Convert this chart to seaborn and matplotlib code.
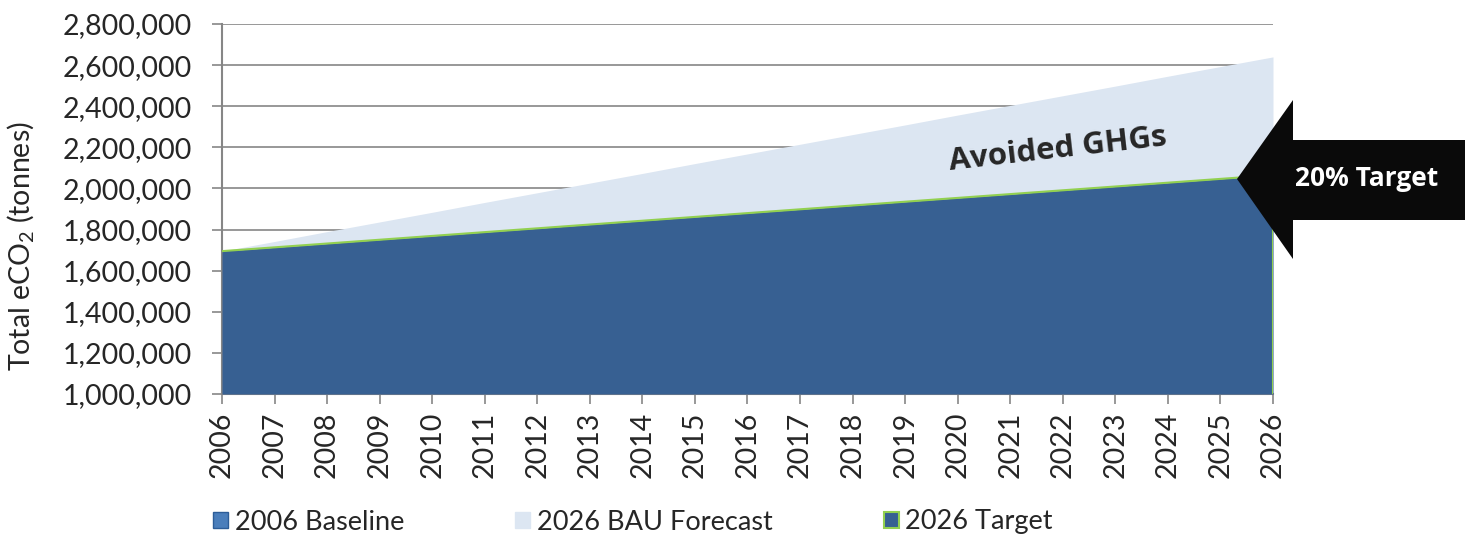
import matplotlib
matplotlib.use("Agg")
import matplotlib.pyplot as plt
import matplotlib.patches as mpatches
from matplotlib.ticker import FuncFormatter
import seaborn as sns
import pandas as pd

# Chart data
years = list(range(2006, 2027))
baseline_2006 = [1695000] * len(years)
bau_forecast = [1695000, 1742000, 1790000, 1837000, 1884000, 1932000, 1979000,
                2026000, 2073000, 2121000, 2168000, 2215000, 2262000, 2309000,
                2357000, 2404000, 2451000, 2498000, 2546000, 2593000, 2640000]
target_2026 = [1695000, 1713500, 1732000, 1750500, 1769000, 1787500, 1806000,
               1824500, 1843000, 1861500, 1880000, 1898500, 1917000, 1935500,
               1954000, 1972500, 1991000, 2009500, 2028000, 2046500, 2065000]
y_ticks = list(range(1000000, 2800001, 200000))
legend_labels = ["2006 Baseline", "2026 BAU Forecast", "2026 Target"]

df = pd.DataFrame({"year": years, "baseline": baseline_2006,
                   "bau": bau_forecast, "target": target_2026})

LIGHT = "#DCE6F2"
DARK = "#376092"
MID = "#4A7EBB"
GREEN = "#92D050"
GRID = "#868686"

sns.set_style("white")
plt.rcParams["font.family"] = ["Lato", "DejaVu Sans"]
plt.rcParams["mathtext.default"] = "regular"

fig = plt.figure(figsize=(14.7, 5.38), dpi=100)
ax = fig.add_axes([222 / 1470, 1 - 394 / 538, (1273 - 222) / 1470, (394 - 24) / 538])

# stacked-looking areas: forecast behind, target in front
ax.fill_between(df["year"], 1000000, df["bau"], color=LIGHT, linewidth=0, zorder=1)
ax.fill_between(df["year"], 1000000, df["baseline"], color=MID, linewidth=0, zorder=2)
ax.fill_between(df["year"], 1000000, df["target"], color=DARK, linewidth=0, zorder=3)
sns.lineplot(data=df, x="year", y="target", color=GREEN, linewidth=1.5, ax=ax, zorder=4)
ax.plot([years[-1], years[-1]], [1000000, target_2026[-1]], color=GREEN, linewidth=1.5, zorder=4)

ax.set_xlim(years[0], years[-1])
ax.set_ylim(1000000, 2800000)
ax.set_xticks(years)
ax.set_xticklabels([str(y) for y in years], rotation=90, fontsize=20.5)
ax.set_yticks(y_ticks)
ax.yaxis.set_major_formatter(FuncFormatter(lambda v, p: f"{int(v):,}"))
ax.tick_params(axis="y", labelsize=20.5, length=7.5, width=1.2, color=GRID,
               direction="out", left=True, pad=14)
ax.tick_params(axis="x", length=7.5, width=1.2, color=GRID, direction="out",
               bottom=True, pad=5)
ax.grid(axis="y", color=GRID, linewidth=1.2, zorder=0)
ax.set_axisbelow(True)
for side in ["top", "right"]:
    ax.spines[side].set_visible(False)
for side in ["left", "bottom"]:
    ax.spines[side].set_color(GRID)
    ax.spines[side].set_linewidth(1.5)
ax.set_xlabel("")
ax.set_ylabel("Total eCO$_2$ (tonnes)", fontsize=20.5)
ax.yaxis.set_label_coords(-0.177, 0.40)

ax.text(2021.9, 2187000, "Avoided GHGs", fontsize=22.5, fontweight="bold",
        family=["Open Sans", "DejaVu Sans"], rotation=6.5, ha="center", va="center", zorder=5)

# Black "20% Target" arrow, in figure pixels
pts = [(1237, 179), (1293, 100), (1293, 140), (1465, 140),
       (1465, 220), (1293, 220), (1293, 259)]
arrow = mpatches.Polygon([(x / 1470, 1 - y / 538) for x, y in pts], closed=True,
                         transform=fig.transFigure, facecolor="#0A0A0A", edgecolor="none", zorder=10)
fig.patches.append(arrow)
fig.text(1367 / 1470, 1 - 179 / 538, "20% Target", color="white", fontsize=19, fontweight="bold",
         family=["Open Sans", "DejaVu Sans"], ha="center", va="center", zorder=11)

handles = [
    mpatches.Patch(facecolor=MID, edgecolor="#2C5D98", label=legend_labels[0]),
    mpatches.Patch(facecolor=LIGHT, edgecolor=LIGHT, label=legend_labels[1]),
    mpatches.Patch(facecolor=DARK, edgecolor=GREEN, linewidth=1.5, label=legend_labels[2]),
]
fig.legend(handles=handles, loc="center", bbox_to_anchor=(633 / 1470, 1 - 522 / 538),
           ncol=3, frameon=False, fontsize=19.5, handlelength=0.55, handleheight=0.55,
           handletextpad=0.25, columnspacing=4.1)

fig.savefig("out.png", dpi=100)
